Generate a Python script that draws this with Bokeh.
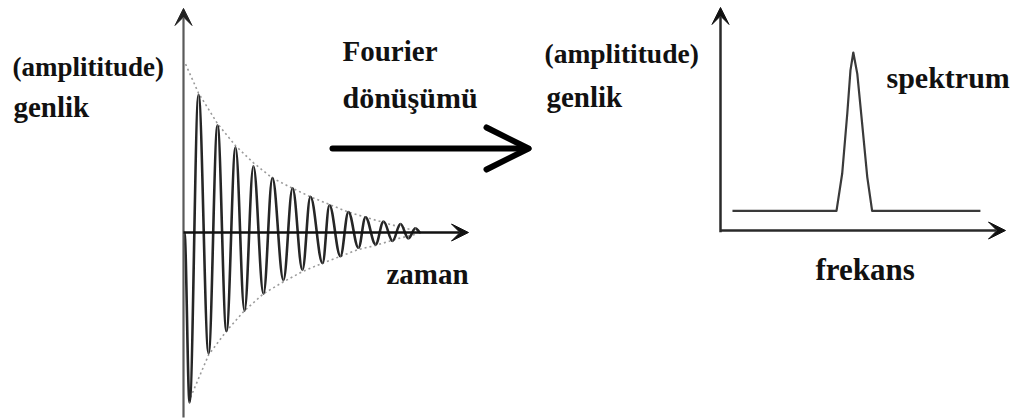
import numpy as np
from bokeh.plotting import figure
from bokeh.models import Range1d, Label, Arrow, VeeHead, OpenHead, ColumnDataSource
from bokeh.embed import file_html
from bokeh.resources import INLINE

# ---- data -------------------------------------------------------------
# Free induction decay: successive zero start, troughs and crests
# (time in oscillation periods, amplitude relative to the initial value)
fid_t = [0.05, 0.32, 0.79, 1.32, 1.79, 2.26, 2.74, 3.21, 3.68, 4.21,
         4.68, 5.26, 5.74, 6.26, 6.68, 7.32, 7.68, 8.26, 8.68, 9.21,
         9.58, 10.11, 10.53, 11.0, 11.42, 11.84, 12.21, 12.47]
fid_amp = [0, -1.0, 0.81, -0.71, 0.63, -0.58, 0.50, -0.46, 0.39, -0.36,
           0.32, -0.28, 0.26, -0.22, 0.21, -0.18, 0.16, -0.14, 0.12, -0.09,
           0.09, -0.07, 0.065, -0.05, 0.05, -0.035, 0.025, 0]

# Decay envelope (upper and lower)
env_up_t = [0.11, 0.79, 1.79, 2.74, 3.68, 4.68, 5.74, 6.68, 7.68, 8.68, 9.58, 10.89, 12.21]
env_up_a = [0.99, 0.82, 0.64, 0.51, 0.41, 0.32, 0.26, 0.21, 0.165, 0.12, 0.09, 0.047, 0.01]
env_lo_t = [0.37, 1.32, 2.26, 3.21, 4.21, 5.26, 6.26, 7.32, 8.26, 9.21, 10.11, 11.16, 12.21]
env_lo_a = [-0.97, -0.72, -0.58, -0.46, -0.36, -0.29, -0.23, -0.18, -0.14, -0.10, -0.076, -0.04, -0.01]

# Spectrum (frequency, intensity)
spec_f = [0.42, 4.07, 4.27, 4.45, 4.56, 4.66, 4.80, 4.97, 5.15, 5.32, 9.12]
spec_i = [0.11, 0.11, 0.32, 0.66, 0.90, 1.0, 0.88, 0.60, 0.30, 0.11, 0.11]

# Axis extents in data units
fid_t_max = 15.0
fid_a_min, fid_a_max = -1.088, 1.318
spec_f_max = 10.0
spec_i_min, spec_i_max = -0.01, 1.253

# ---- layout -----------------------------------------------------------
W, H = 1021, 419
FONT = "Liberation Serif"

p = figure(width=W, height=H, x_range=Range1d(0, W), y_range=Range1d(H, 0),
           output_backend="svg", toolbar_location=None, min_border=0,
           x_axis_location=None, y_axis_location=None)
p.grid.visible = False
p.outline_line_color = None
p.background_fill_color = "white"
p.border_fill_color = "white"

# panel scales: origin pixel and pixels per unit
fid_x0, fid_sx = 183.0, 19.0
fid_y0, fid_sy = 232.0, 170.0
spec_x0, spec_sx = 720.0, 28.5
spec_y0, spec_sy = 230.0, 178.0

p.extra_x_ranges = {
    "time": Range1d(-fid_x0 / fid_sx, (W - fid_x0) / fid_sx),
    "freq": Range1d(-spec_x0 / spec_sx, (W - spec_x0) / spec_sx),
}
p.extra_y_ranges = {
    "amp": Range1d((fid_y0 - H) / fid_sy, fid_y0 / fid_sy),
    "inten": Range1d((spec_y0 - H) / spec_sy, spec_y0 / spec_sy),
}

# ---- left panel: decaying signal --------------------------------------
t = np.array(fid_t)
a = np.array(fid_amp)
k = 0.37
seg = ColumnDataSource(dict(
    x0=t[:-1], y0=a[:-1], x1=t[1:], y1=a[1:],
    cx0=t[:-1] + k * (t[1:] - t[:-1]), cy0=a[:-1],
    cx1=t[1:] - k * (t[1:] - t[:-1]), cy1=a[1:],
))

p.line(env_up_t, env_up_a, x_range_name="time", y_range_name="amp",
       line_color="#9a9a9a", line_width=1.6, line_dash="2 3")
p.line(env_lo_t, env_lo_a, x_range_name="time", y_range_name="amp",
       line_color="#9a9a9a", line_width=1.6, line_dash="2 3")

# vertical axis
p.add_layout(Arrow(x_start=0, y_start=fid_a_min, x_end=0, y_end=fid_a_max,
                   x_range_name="time", y_range_name="amp",
                   line_color="#5a5a5a", line_width=2.2,
                   end=VeeHead(size=17, fill_color="#222222", line_color="#222222")))

p.bezier(x0="x0", y0="y0", x1="x1", y1="y1", cx0="cx0", cy0="cy0",
         cx1="cx1", cy1="cy1", source=seg, x_range_name="time",
         y_range_name="amp", line_color="#262626", line_width=2.6)

# horizontal axis
p.add_layout(Arrow(x_start=0, y_start=0, x_end=fid_t_max, y_end=0,
                   x_range_name="time", y_range_name="amp",
                   line_color="#111111", line_width=2.4,
                   end=VeeHead(size=17, fill_color="#111111", line_color="#111111")))

# ---- right panel: spectrum ----------------------------------------------
p.add_layout(Arrow(x_start=0, y_start=spec_i_min, x_end=0, y_end=spec_i_max,
                   x_range_name="freq", y_range_name="inten",
                   line_color="#2a2a2a", line_width=2.5,
                   end=VeeHead(size=17, fill_color="#111111", line_color="#111111")))
p.add_layout(Arrow(x_start=0, y_start=0, x_end=spec_f_max, y_end=0,
                   x_range_name="freq", y_range_name="inten",
                   line_color="#2a2a2a", line_width=2.5,
                   end=VeeHead(size=17, fill_color="#111111", line_color="#111111")))
p.line(spec_f, spec_i, x_range_name="freq", y_range_name="inten",
       line_color="#3a3a3a", line_width=2.2, line_join="round")

# ---- transform arrow ----------------------------------------------------
p.add_layout(Arrow(x_start=332, y_start=148, x_end=528, y_end=148,
                   line_color="black", line_width=6, line_cap="round",
                   end=OpenHead(size=42, line_color="black", line_width=6,
                                line_cap="round", line_join="round")))

# ---- texts --------------------------------------------------------------
labels = [
    ("(amplititude)", 12, 66, 27),
    ("genlik", 13, 106, 29),
    ("Fourier", 342, 50, 29),
    ("dönüşümü", 342, 97, 30),
    ("zaman", 386, 273, 29),
    ("(amplititude)", 544, 53, 27.5),
    ("genlik", 546, 96, 29),
    ("spektrum", 886, 77, 30),
    ("frekans", 815, 269, 31),
]
for txt, x, y, size in labels:
    p.add_layout(Label(x=x, y=y, text=txt, text_font=FONT, text_font_style="bold",
                       text_font_size=f"{size}px", text_color="#111111",
                       text_baseline="alphabetic", text_align="left"))

open("out.html", "w").write(file_html(p, INLINE))
